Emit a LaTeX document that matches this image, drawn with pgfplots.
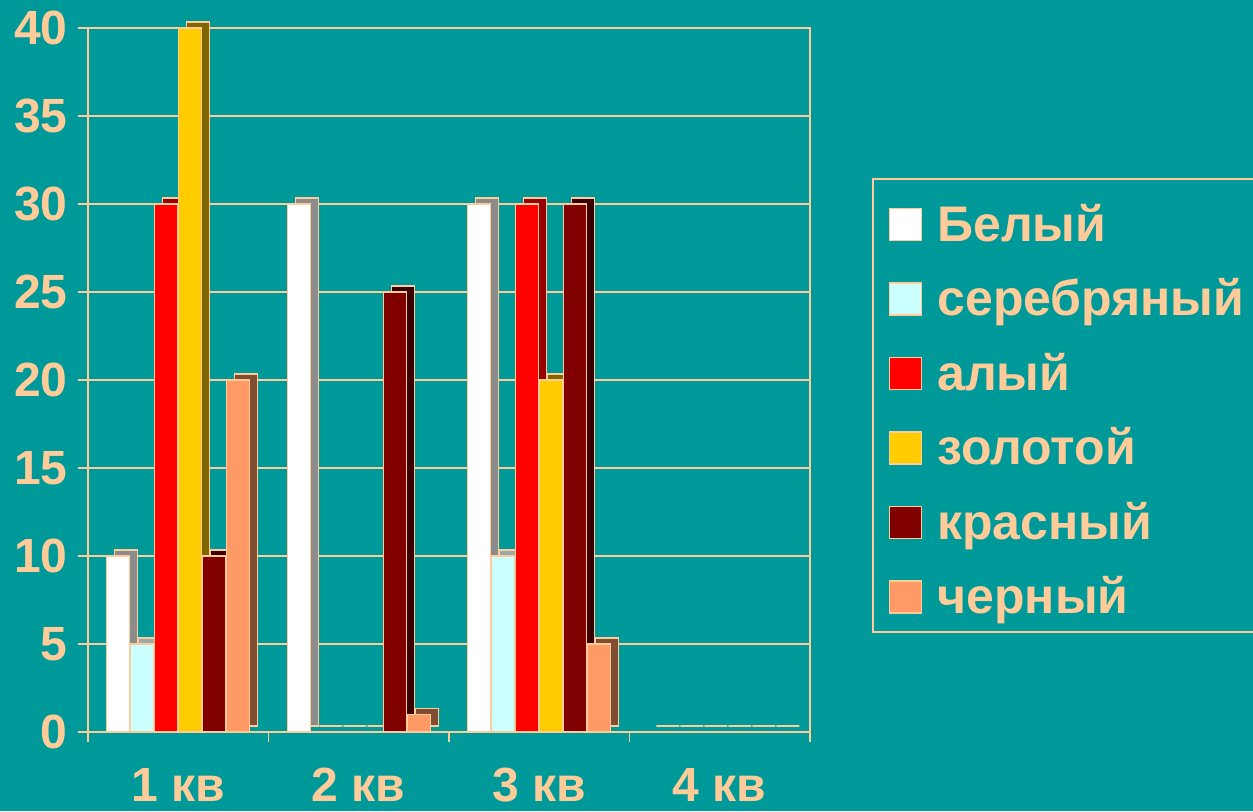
\documentclass[border=0pt]{standalone}
\usepackage{pgfplots}
\pgfplotsset{compat=1.18}
\usepackage{fontspec}
\setmainfont{Liberation Sans}
\definecolor{bg}{HTML}{009999}
\definecolor{peach}{HTML}{FFCC99}
\definecolor{cWhite}{HTML}{FFFFFF}
\definecolor{cSilver}{HTML}{CCFFFF}
\definecolor{cScarlet}{HTML}{FF0000}
\definecolor{cGold}{HTML}{FFCC00}
\definecolor{cRed}{HTML}{800000}
\definecolor{cBlack}{HTML}{FF9966}
\definecolor{sWhite}{HTML}{8C8C8C}
\definecolor{sSilver}{HTML}{99AAAA}
\definecolor{sScarlet}{HTML}{990000}
\definecolor{sGold}{HTML}{806600}
\definecolor{sRed}{HTML}{3A0000}
\definecolor{sBlack}{HTML}{804D33}
\pgfplotstableread{
x  white silver scarlet gold red black
0  10    5      30      40   10  20
1  30    0      0       0    25  1
2  30    10     30      20   30  5
3  0     0      0       0    0   0
}\data
\begin{document}
\begin{tikzpicture}
\fill[bg] (-44pt,-39.5pt) rectangle ++(626.5pt,405.5pt);
\begin{axis}[
  at={(0pt,0pt)}, anchor=south west,
  scale only axis, width=361pt, height=352pt,
  xmin=-0.5, xmax=3.5, ymin=0, ymax=40,
  clip=false,
  ybar, bar width=11.5pt,
  xtick={0,1,2,3}, xticklabels={1 кв,2 кв,3 кв,4 кв},
  minor xtick={-0.5,0.5,1.5,2.5,3.5},
  ytick={0,5,...,40},
  xtick pos=bottom, ytick pos=left,
  ymajorgrids, major grid style={peach, line width=0.8pt},
  axis line style={peach, line width=0.8pt},
  tick style={peach, line width=0.8pt},
  major x tick style={draw=none},
  tick align=outside, major tick length=5pt, minor tick length=5pt,
  ticklabel style={font=\fontsize{24}{28}\bfseries\selectfont, text=peach, inner sep=2pt},
  x tick label style={yshift=-11pt},
  y tick label style={xshift=-3pt},
  /pgf/number format/assume math mode=true,
  legend style={at={(1.087,0.7855)}, anchor=north west, draw=none, fill=none,
    font=\fontsize{25}{29}\bfseries\selectfont, text=peach, row sep=12.25pt, column sep=6.5pt,
    inner xsep=8pt, inner ysep=12pt,
    nodes={inner sep=1pt, text height=18pt, text depth=5pt}},
  legend cell align=left,
  legend image code/.code={\draw[#1, draw=peach, line width=0.6pt] (0pt,-6pt) rectangle (16pt,10pt);},
  every axis plot/.append style={draw=peach, line width=0.6pt},
]
\addplot[fill=sWhite, bar shift=-26pt, yshift=3pt, forget plot] table[x=x,y=white]{\data};
\addplot[fill=cWhite, bar shift=-30pt] table[x=x,y=white]{\data};
\addplot[fill=sSilver, bar shift=-14pt, yshift=3pt, forget plot] table[x=x,y=silver]{\data};
\addplot[fill=cSilver, bar shift=-18pt] table[x=x,y=silver]{\data};
\addplot[fill=sScarlet, bar shift=-2pt, yshift=3pt, forget plot] table[x=x,y=scarlet]{\data};
\addplot[fill=cScarlet, bar shift=-6pt] table[x=x,y=scarlet]{\data};
\addplot[fill=sGold, bar shift=10pt, yshift=3pt, forget plot] table[x=x,y=gold]{\data};
\addplot[fill=cGold, bar shift=6pt] table[x=x,y=gold]{\data};
\addplot[fill=sRed, bar shift=22pt, yshift=3pt, forget plot] table[x=x,y=red]{\data};
\addplot[fill=cRed, bar shift=18pt] table[x=x,y=red]{\data};
\addplot[fill=sBlack, bar shift=34pt, yshift=3pt, forget plot] table[x=x,y=black]{\data};
\addplot[fill=cBlack, bar shift=30pt] table[x=x,y=black]{\data};
\legend{Белый, серебряный, алый, золотой, красный, черный}
\draw[peach, line width=0.8pt] (rel axis cs:1.087,0.7855) rectangle (rel axis cs:1.7,0.142);
\end{axis}
\pgfresetboundingbox
\path[use as bounding box] (-44pt,-39.5pt) rectangle ++(626.5pt,405.5pt);
\end{tikzpicture}
\end{document}
